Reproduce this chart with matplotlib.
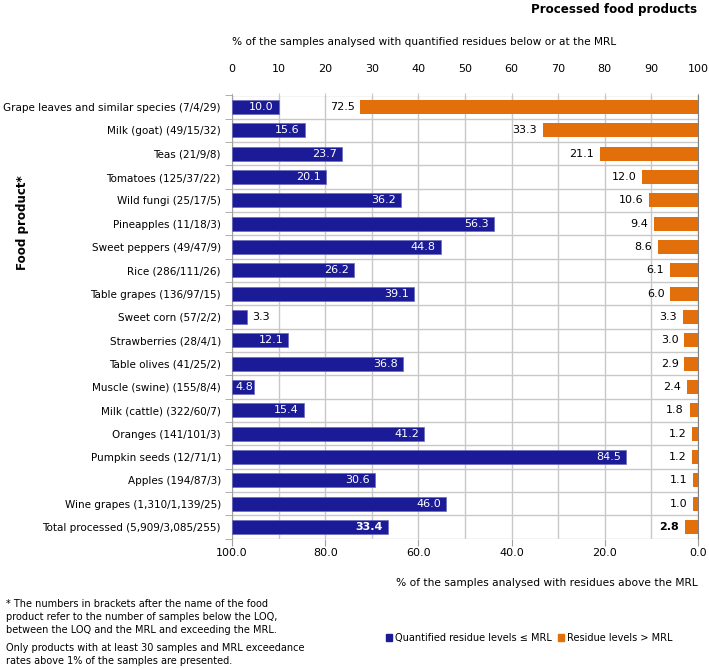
import matplotlib
matplotlib.use("Agg")
import matplotlib.pyplot as plt
from matplotlib.patches import Patch

categories = [
    "Grape leaves and similar species (7/4/29)",
    "Milk (goat) (49/15/32)",
    "Teas (21/9/8)",
    "Tomatoes (125/37/22)",
    "Wild fungi (25/17/5)",
    "Pineapples (11/18/3)",
    "Sweet peppers (49/47/9)",
    "Rice (286/111/26)",
    "Table grapes (136/97/15)",
    "Sweet corn (57/2/2)",
    "Strawberries (28/4/1)",
    "Table olives (41/25/2)",
    "Muscle (swine) (155/8/4)",
    "Milk (cattle) (322/60/7)",
    "Oranges (141/101/3)",
    "Pumpkin seeds (12/71/1)",
    "Apples (194/87/3)",
    "Wine grapes (1,310/1,139/25)",
    "Total processed (5,909/3,085/255)",
]
below_mrl = [10.0, 15.6, 23.7, 20.1, 36.2, 56.3, 44.8, 26.2, 39.1, 3.3,
             12.1, 36.8, 4.8, 15.4, 41.2, 84.5, 30.6, 46.0, 33.4]
above_mrl = [72.5, 33.3, 21.1, 12.0, 10.6, 9.4, 8.6, 6.1, 6.0, 3.3,
             3.0, 2.9, 2.4, 1.8, 1.2, 1.2, 1.1, 1.0, 2.8]
top_ticks = [0, 10, 20, 30, 40, 50, 60, 70, 80, 90, 100]
bottom_ticks = [100.0, 80.0, 60.0, 40.0, 20.0, 0.0]

BLUE = "#1b1b98"
ORANGE = "#e36f0a"
GRID = "#c8c8c8"
FONT = "DejaVu Sans"
FS = 7.5

plt.rcParams["font.family"] = FONT

W, H = 709, 668
fig = plt.figure(figsize=(W / 100, H / 100), dpi=100)
ax_l, ax_r, ax_t, ax_b = 232, 698, 95.5, 538.5
ax = fig.add_axes([ax_l / W, 1 - ax_b / H, (ax_r - ax_l) / W, (ax_b - ax_t) / H])

n = len(categories)
ys = list(range(n))
total_idx = n - 1

ax.set_xlim(0, 100)
ax.set_ylim(n - 0.5, -0.5)
ax.barh(ys, below_mrl, height=0.6, color=BLUE, edgecolor="#6a6ac0", linewidth=0.5, zorder=3)

ax2 = ax.twiny()
ax2.set_xlim(100, 0)
ax2.barh(ys, above_mrl, height=0.6, color=ORANGE, zorder=3)

# top axis (quantified residues <= MRL)
ax.xaxis.tick_top()
ax.xaxis.set_label_position("top")
ax.set_xticks(top_ticks)
ax.set_xticklabels([str(t) for t in top_ticks], fontsize=FS + 0.5)
ax.tick_params(axis="x", which="major", top=True, bottom=False, labeltop=True,
               labelbottom=False, direction="inout", length=5, color=GRID, pad=13)
ax.set_yticks([y - 0.5 for y in ys] + [n - 0.5], minor=True)
ax.set_yticks(ys)
ax.set_yticklabels(categories, fontsize=FS)
ax.tick_params(axis="y", which="major", length=0, pad=8)
ax.tick_params(axis="y", which="minor", length=5, color="#a0a0a0")
ax.grid(True, axis="x", color=GRID, linewidth=1.0, zorder=0)
ax.grid(True, axis="y", which="minor", color=GRID, linewidth=1.0, zorder=0)
for s in ["top", "bottom"]:
    ax.spines[s].set_visible(False)
ax.spines["left"].set_color("#a0a0a0")
ax.spines["right"].set_color("#808080")

for i, v in enumerate(below_mrl):
    weight = "bold" if i == total_idx else "normal"
    if v < 4:
        ax.text(v + 1.0, i, f"{v:.1f}", ha="left", va="center", color="black",
                fontsize=FS + 0.5, zorder=4)
    else:
        pad = 0.2 if v < 6 else 1.1
        ax.text(v - pad, i, f"{v:.1f}", ha="right", va="center", color="white",
                fontsize=FS + 0.5, fontweight=weight, zorder=4)

# bottom axis (residues > MRL), reversed
ax2.xaxis.tick_bottom()
ax2.xaxis.set_label_position("bottom")
ax2.set_xticks(bottom_ticks)
ax2.set_xticklabels([f"{t:.1f}" for t in bottom_ticks], fontsize=FS + 0.5)
ax2.tick_params(axis="x", top=False, bottom=True, labeltop=False, labelbottom=True,
                direction="out", length=5, color="#a0a0a0", pad=2)
for s in ["top", "bottom", "left", "right"]:
    ax2.spines[s].set_visible(False)
for i, v in enumerate(above_mrl):
    weight = "bold" if i == total_idx else "normal"
    ax2.text(v + 1.2, i, f"{v:.1f}", ha="right", va="center", color="black",
             fontsize=FS + 0.5, fontweight=weight, zorder=4)

def px(x, y):
    return x / W, 1 - y / H

fig.text(*px(697, 10), "Processed food products", ha="right", va="center",
         fontsize=FS + 1.1, fontweight="bold")
fig.text(*px(232, 42), "% of the samples analysed with quantified residues below or at the MRL",
         ha="left", va="center", fontsize=FS + 0.1)
fig.text(*px(698, 583), "% of the samples analysed with residues above the MRL",
         ha="right", va="center", fontsize=FS + 0.2)
fig.text(*px(23, 223), "Food product*", ha="center", va="center", rotation=90,
         fontsize=FS + 1.1, fontweight="bold")

fig.text(*px(6, 599), "* The numbers in brackets after the name of the food\n"
         "product refer to the number of samples below the LOQ,\n"
         "between the LOQ and the MRL and exceeding the MRL.",
         ha="left", va="top", fontsize=FS - 0.5, linespacing=1.4)
fig.text(*px(6, 643), "Only products with at least 30 samples and MRL exceedance\n"
         "rates above 1% of the samples are presented.",
         ha="left", va="top", fontsize=FS - 0.5, linespacing=1.4)

leg_kw = dict(frameon=False, fontsize=7.0, handlelength=0.6, handleheight=0.6,
              handletextpad=0.3, borderpad=0, borderaxespad=0, loc="center left")
fig.legend(handles=[Patch(color=BLUE, label="Quantified residue levels \u2264 MRL")],
           bbox_to_anchor=px(386, 638), **leg_kw)
fig.legend(handles=[Patch(color=ORANGE, label="Residue levels > MRL")],
           bbox_to_anchor=px(558, 638), **leg_kw)

fig.savefig("out.png", dpi=100)
